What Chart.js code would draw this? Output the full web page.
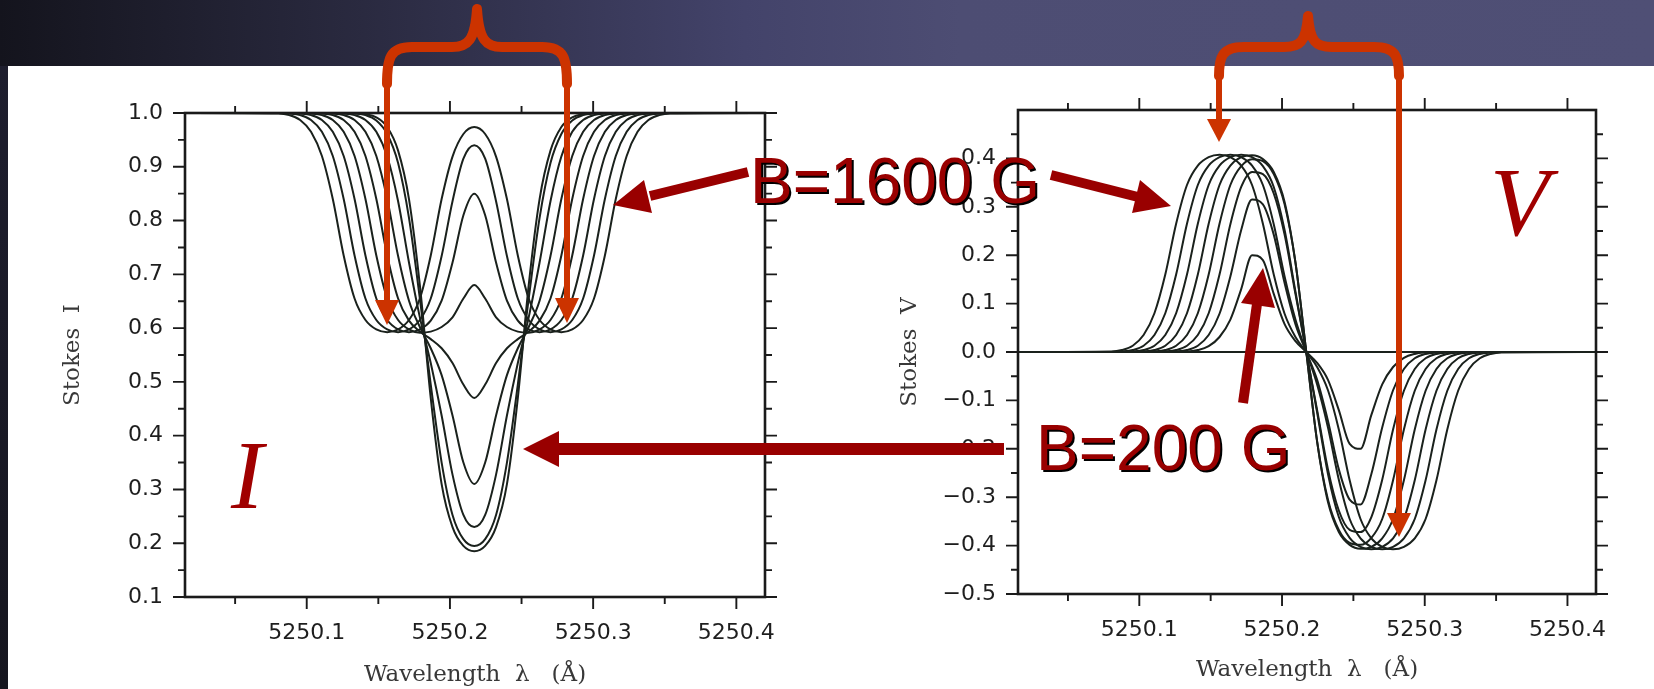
<!DOCTYPE html>
<html>
<head>
<meta charset="utf-8">
<script src="https://cdn.jsdelivr.net/npm/chart.js@4.4.1/dist/chart.umd.min.js"></script>
<style>
  html, body { margin: 0; padding: 0; }
  body { width: 1654px; height: 689px; position: relative; overflow: hidden; background: #fff; }
  #header { position: absolute; left: 0; top: 0; width: 1654px; height: 66px;
    background: linear-gradient(to right, #14141d 0%, #2a2a40 22%, #43436a 45%, #4d4d73 58%, #4f4f75 100%); }
  #edge { position: absolute; left: 0; top: 66px; width: 8px; height: 623px;
    background: linear-gradient(to bottom, #1e1e2e, #16161f); }
  #chartI { position: absolute; left: 8px; top: 66px; }
  #chartV { position: absolute; left: 830px; top: 66px; }
  #notes { position: absolute; left: 0; top: 0; }
</style>
</head>
<body>
<div id="header"></div>
<div id="edge"></div>
<canvas id="chartI" width="792" height="623"></canvas>
<canvas id="chartV" width="824" height="623"></canvas>

<svg id="notes" width="1654" height="689" viewBox="0 0 1654 689">
  <!-- orange braces with their arrows -->
  <g fill="none" stroke="#cc3300" stroke-linecap="round" stroke-linejoin="round" stroke-width="10">
    <path d="M387,84 C387,58 390,47 412,47 L452,47 C468,47 475,40 477,9 C479,40 486,47 502,47 L542,47 C564,47 567,58 567,84"/>
    <path d="M1219,76 C1219,57 1222,47 1244,47 L1284,47 C1300,47 1306,42 1308,16 C1310,42 1316,47 1332,47 L1374,47 C1396,47 1399,57 1399,76"/>
  </g>
  <g stroke="#cc3300" stroke-width="6">
    <line x1="387" y1="80" x2="387" y2="302"/>
    <line x1="567" y1="80" x2="567" y2="300"/>
    <line x1="1219" y1="74" x2="1219" y2="122"/>
    <line x1="1399" y1="74" x2="1399" y2="515"/>
  </g>
  <g fill="#cc3300">
    <polygon points="375,300 399,300 387,325"/>
    <polygon points="555,298 579,298 567,323"/>
    <polygon points="1207,119 1231,119 1219,142"/>
    <polygon points="1387,513 1411,513 1399,537"/>
  </g>

  <!-- dark red arrows -->
  <g stroke="#990000" stroke-width="10">
    <line x1="748" y1="172" x2="650" y2="196"/>
    <line x1="1051" y1="175" x2="1138" y2="197"/>
    <line x1="1243" y1="403" x2="1257" y2="304"/>
    <line x1="1004" y1="449" x2="556" y2="449" stroke-width="12"/>
  </g>
  <g fill="#990000">
    <polygon points="613,205 644,180 652,213"/>
    <polygon points="1171,206 1140,180 1132,213"/>
    <polygon points="1263,268 1275,308 1241,303"/>
    <polygon points="523,449 559,431 559,467"/>
  </g>

  <!-- labels -->
  <g font-family="'Liberation Sans', Arial, sans-serif" font-size="64">
    <text x="752" y="205" fill="#000">B=1600 G</text>
    <text x="750" y="203" fill="#990000">B=1600 G</text>
    <text x="1038" y="472" fill="#000">B=200 G</text>
    <text x="1036" y="470" fill="#990000">B=200 G</text>
  </g>
  <g font-family="'Liberation Serif', 'Times New Roman', serif" font-style="italic" font-size="97" fill="#a00000">
    <text x="231" y="508">I</text>
    <text x="1490" y="235">V</text>
  </g>
</svg>

<script>
const wavelength = [5250.015, 5250.0802, 5250.0878, 5250.0954, 5250.1030, 5250.1106, 5250.1182, 5250.1258,
  5250.1334, 5250.1410, 5250.1486, 5250.1562, 5250.1638, 5250.1714, 5250.1790, 5250.1866, 5250.1942,
  5250.2018, 5250.2094, 5250.2170, 5250.2246, 5250.2322, 5250.2398, 5250.2474, 5250.2550, 5250.2626,
  5250.2702, 5250.2778, 5250.2854, 5250.2930, 5250.3006, 5250.3082, 5250.3158, 5250.3234, 5250.3310,
  5250.3386, 5250.3462, 5250.3538, 5250.42];

const fieldStrengths = [0, 200, 400, 600, 800, 1000, 1200, 1400, 1600];

// Stokes I, one curve per field strength
const stokesI_B0 = [1, 1,1,1,1,1,1,1,1, 0.998,0.992,0.974,0.93,0.84,0.68,0.47,0.31,0.23,0.195, 0.185,
  0.195,0.23,0.31,0.47,0.68,0.84,0.93,0.974,0.992,0.998, 1,1,1,1,1,1,1,1, 1];
const stokesI_B200 = [1, 1,1,1,1,1,1,1, 0.999,0.996,0.986,0.961,0.907,0.805,0.655,0.495,0.35,0.2525,0.2075, 0.195,
  0.2075,0.2525,0.35,0.495,0.655,0.805,0.907,0.961,0.986,0.996,0.999, 1,1,1,1,1,1,1, 1];
const stokesI_B400 = [1, 1,1,1,1,1,1, 0.999,0.996,0.987,0.965,0.919,0.836,0.722,0.62,0.535,0.4375,0.3275,0.2525, 0.23,
  0.2525,0.3275,0.4375,0.535,0.62,0.722,0.836,0.919,0.965,0.987,0.996,0.999, 1,1,1,1,1,1, 1];
const stokesI_B600 = [1, 1,1,1,1,1, 0.999,0.996,0.987,0.965,0.92,0.84,0.734,0.651,0.602,0.5625,0.5125,0.4375,0.35, 0.31,
  0.35,0.4375,0.5125,0.5625,0.602,0.651,0.734,0.84,0.92,0.965,0.987,0.996,0.999, 1,1,1,1,1, 1];
const stokesI_B800 = [1, 1,1,1,1, 0.999,0.996,0.987,0.965,0.92,0.84,0.735,0.655,0.614,0.5935,0.5795,0.5625,0.535,0.495, 0.47,
  0.495,0.535,0.5625,0.5795,0.5935,0.614,0.655,0.735,0.84,0.92,0.965,0.987,0.996,0.999, 1,1,1,1, 1];
const stokesI_B1000 = [1, 1,1,1, 0.999,0.996,0.987,0.965,0.92,0.84,0.735,0.655,0.615,0.5975,0.5915,0.5935,0.602,0.62,0.655, 0.68,
  0.655,0.62,0.602,0.5935,0.5915,0.5975,0.615,0.655,0.735,0.84,0.92,0.965,0.987,0.996,0.999, 1,1,1, 1];
const stokesI_B1200 = [1, 1,1, 0.999,0.996,0.987,0.965,0.92,0.84,0.735,0.655,0.615,0.5975,0.5925,0.5975,0.614,0.651,0.722,0.81, 0.85,
  0.81,0.722,0.651,0.614,0.5975,0.5925,0.5975,0.615,0.655,0.735,0.84,0.92,0.965,0.987,0.996,0.999, 1,1, 1];
const stokesI_B1400 = [1, 1, 0.999,0.996,0.987,0.965,0.92,0.84,0.735,0.655,0.615,0.5975,0.5925,0.5975,0.615,0.655,0.734,0.836,0.915, 0.94,
  0.915,0.836,0.734,0.655,0.615,0.5975,0.5925,0.5975,0.615,0.655,0.735,0.84,0.92,0.965,0.987,0.996,0.999, 1, 1];
const stokesI_B1600 = [1, 0.999,0.996,0.987,0.965,0.92,0.84,0.735,0.655,0.615,0.5975,0.5925,0.5975,0.615,0.655,0.735,0.84,0.919,0.961, 0.974,
  0.961,0.919,0.84,0.735,0.655,0.615,0.5975,0.5925,0.5975,0.615,0.655,0.735,0.84,0.92,0.965,0.987,0.996,0.999, 1];

// Stokes V, one curve per field strength
const stokesV_B0 = [0, 0,0,0,0,0,0,0,0,0,0,0,0,0,0,0,0,0,0, 0, 0,0,0,0,0,0,0,0,0,0,0,0,0,0,0,0,0,0, 0];
const stokesV_B200 = [0, 0,0,0,0,0,0,0, 0.001,0.004,0.012,0.031,0.067,0.13,0.2,0.19,0.12,0.0575,0.0225, 0,
  -0.0225,-0.0575,-0.12,-0.19,-0.2,-0.13,-0.067,-0.031,-0.012,-0.004,-0.001, 0,0,0,0,0,0,0, 0];
const stokesV_B400 = [0, 0,0,0,0,0,0, 0.001,0.004,0.013,0.035,0.079,0.156,0.252,0.315,0.305,0.2425,0.1425,0.0575, 0,
  -0.0575,-0.1425,-0.2425,-0.305,-0.315,-0.252,-0.156,-0.079,-0.035,-0.013,-0.004,-0.001, 0,0,0,0,0,0, 0];
const stokesV_B600 = [0, 0,0,0,0,0, 0.001,0.004,0.013,0.035,0.08,0.16,0.264,0.341,0.372,0.3675,0.3275,0.2425,0.12, 0,
  -0.12,-0.2425,-0.3275,-0.3675,-0.372,-0.341,-0.264,-0.16,-0.08,-0.035,-0.013,-0.004,-0.001, 0,0,0,0,0, 0];
const stokesV_B800 = [0, 0,0,0,0, 0.001,0.004,0.013,0.035,0.08,0.16,0.265,0.345,0.384,0.3985,0.3945,0.3675,0.305,0.185, 0,
  -0.185,-0.305,-0.3675,-0.3945,-0.3985,-0.384,-0.345,-0.265,-0.16,-0.08,-0.035,-0.013,-0.004,-0.001, 0,0,0,0, 0];
const stokesV_B1000 = [0, 0,0,0, 0.001,0.004,0.013,0.035,0.08,0.16,0.265,0.345,0.385,0.4025,0.4065,0.3985,0.372,0.31,0.185, 0,
  -0.185,-0.31,-0.372,-0.3985,-0.4065,-0.4025,-0.385,-0.345,-0.265,-0.16,-0.08,-0.035,-0.013,-0.004,-0.001, 0,0,0, 0];
const stokesV_B1200 = [0, 0,0, 0.001,0.004,0.013,0.035,0.08,0.16,0.265,0.345,0.385,0.4025,0.4075,0.4025,0.384,0.341,0.252,0.125, 0,
  -0.125,-0.252,-0.341,-0.384,-0.4025,-0.4075,-0.4025,-0.385,-0.345,-0.265,-0.16,-0.08,-0.035,-0.013,-0.004,-0.001, 0,0, 0];
const stokesV_B1400 = [0, 0, 0.001,0.004,0.013,0.035,0.08,0.16,0.265,0.345,0.385,0.4025,0.4075,0.4025,0.385,0.345,0.264,0.156,0.067, 0,
  -0.067,-0.156,-0.264,-0.345,-0.385,-0.4025,-0.4075,-0.4025,-0.385,-0.345,-0.265,-0.16,-0.08,-0.035,-0.013,-0.004,-0.001, 0, 0];
const stokesV_B1600 = [0, 0.001,0.004,0.013,0.035,0.08,0.16,0.265,0.345,0.385,0.4025,0.4075,0.4025,0.385,0.345,0.265,0.16,0.079,0.031, 0,
  -0.031,-0.079,-0.16,-0.265,-0.345,-0.385,-0.4025,-0.4075,-0.4025,-0.385,-0.345,-0.265,-0.16,-0.08,-0.035,-0.013,-0.004,-0.001, 0];

// axis ticks
const xTickValues = [5250.1, 5250.2, 5250.3, 5250.4];
const xTickLabels = ['5250.1', '5250.2', '5250.3', '5250.4'];
const xMinorTicks = [5250.05, 5250.15, 5250.25, 5250.35];
const iTickValues = [0.1, 0.2, 0.3, 0.4, 0.5, 0.6, 0.7, 0.8, 0.9, 1.0];
const iTickLabels = ['0.1', '0.2', '0.3', '0.4', '0.5', '0.6', '0.7', '0.8', '0.9', '1.0'];
const iMinorTicks = [0.15, 0.25, 0.35, 0.45, 0.55, 0.65, 0.75, 0.85, 0.95];
const vTickValues = [-0.5, -0.4, -0.3, -0.2, -0.1, 0.0, 0.1, 0.2, 0.3, 0.4];
const vTickLabels = ['\u22120.5', '\u22120.4', '\u22120.3', '\u22120.2', '\u22120.1', '0.0', '0.1', '0.2', '0.3', '0.4'];
const vMinorTicks = [-0.45, -0.35, -0.25, -0.15, -0.05, 0.05, 0.15, 0.25, 0.35, 0.45];

const lineColor = '#1a211c';
const tickFont = { family: "'DejaVu Sans', sans-serif", size: 22 };
const titleFont = { family: "'DejaVu Serif', serif", size: 23 };

// box frame with outward tick marks on all four sides
const frameTicks = {
    id: 'frameTicks',
    afterDatasetsDraw(chart, args, opts) {
        const { ctx, chartArea: a } = chart;
        const x = chart.scales.x;
        const y = chart.scales.y;
        ctx.save();
        ctx.strokeStyle = '#1a1a1a';
        ctx.lineWidth = 2.6;
        ctx.strokeRect(a.left, a.top, a.right - a.left, a.bottom - a.top);
        ctx.lineWidth = 1.9;
        ctx.beginPath();
        const mark = (values, len, horizontal) => values.forEach(v => {
            if (horizontal) {
                const px = x.getPixelForValue(v);
                ctx.moveTo(px, a.bottom); ctx.lineTo(px, a.bottom + len);
                ctx.moveTo(px, a.top); ctx.lineTo(px, a.top - len);
            } else {
                const py = y.getPixelForValue(v);
                ctx.moveTo(a.left, py); ctx.lineTo(a.left - len, py);
                ctx.moveTo(a.right, py); ctx.lineTo(a.right + len, py);
            }
        });
        mark(opts.xMajor, 12, true);
        mark(opts.xMinor, 7, true);
        mark(opts.yMajor, 12, false);
        mark(opts.yMinor, 7, false);
        ctx.stroke();
        ctx.restore();
    }
};

function makeDatasets(series) {
    return series.map((values, k) => ({
        label: 'B=' + fieldStrengths[k] + ' G',
        data: values.map((v, i) => ({ x: wavelength[i], y: v })),
        borderColor: lineColor,
        borderWidth: 2,
        pointRadius: 0,
        fill: false,
        cubicInterpolationMode: 'monotone'
    }));
}

function buildPanel(canvasId, series, panel) {
    return new Chart(document.getElementById(canvasId), {
        type: 'line',
        data: { datasets: makeDatasets(series) },
        options: {
            responsive: false,
            animation: false,
            devicePixelRatio: 1,
            layout: { padding: panel.padding },
            plugins: {
                legend: { display: false },
                tooltip: { enabled: false },
                frameTicks: { xMajor: xTickValues, xMinor: xMinorTicks, yMajor: panel.yTicks, yMinor: panel.yMinor }
            },
            scales: {
                x: {
                    type: 'linear',
                    min: 5250.015,
                    max: 5250.42,
                    afterBuildTicks: ax => { ax.ticks = xTickValues.map(v => ({ value: v })); },
                    afterFit: ax => { ax.height = panel.xHeight; },
                    grid: { display: false, drawTicks: false },
                    border: { display: false },
                    ticks: { callback: (v, i) => xTickLabels[i], padding: 23, maxRotation: 0, autoSkip: false,
                             font: tickFont, color: '#1e1e1e' },
                    title: { display: true, text: 'Wavelength  \u03bb   (\u00c5)', font: titleFont, color: '#383838',
                             padding: { top: 0, bottom: panel.xTitlePad } }
                },
                y: {
                    type: 'linear',
                    min: panel.yMin,
                    max: panel.yMax,
                    afterBuildTicks: ax => { ax.ticks = panel.yTicks.map(v => ({ value: v })); },
                    afterFit: ax => { ax.width = panel.yWidth; },
                    grid: { display: false, drawTicks: false },
                    border: { display: false },
                    ticks: { callback: (v, i) => panel.yLabels[i], padding: 22, autoSkip: false,
                             font: tickFont, color: '#1e1e1e' },
                    title: { display: true, text: panel.yTitle, font: titleFont, color: '#383838',
                             padding: { top: panel.yTitlePad, bottom: 0 } }
                }
            }
        },
        plugins: [frameTicks]
    });
}

buildPanel('chartI',
    [stokesI_B0, stokesI_B200, stokesI_B400, stokesI_B600, stokesI_B800,
     stokesI_B1000, stokesI_B1200, stokesI_B1400, stokesI_B1600],
    { padding: { left: 0, top: 47, right: 35, bottom: 0 }, xHeight: 92, yWidth: 177,
      yMin: 0.1, yMax: 1.0, yTicks: iTickValues, yLabels: iTickLabels, yMinor: iMinorTicks,
      yTitle: 'Stokes  I', yTitlePad: 51, xTitlePad: 0 });

buildPanel('chartV',
    [stokesV_B0, stokesV_B200, stokesV_B400, stokesV_B600, stokesV_B800,
     stokesV_B1000, stokesV_B1200, stokesV_B1400, stokesV_B1600],
    { padding: { left: 0, top: 44, right: 58, bottom: 0 }, xHeight: 95, yWidth: 188,
      yMin: -0.5, yMax: 0.5, yTicks: vTickValues, yLabels: vTickLabels, yMinor: vMinorTicks,
      yTitle: 'Stokes  V', yTitlePad: 66, xTitlePad: 5 });
</script>
</body>
</html>
